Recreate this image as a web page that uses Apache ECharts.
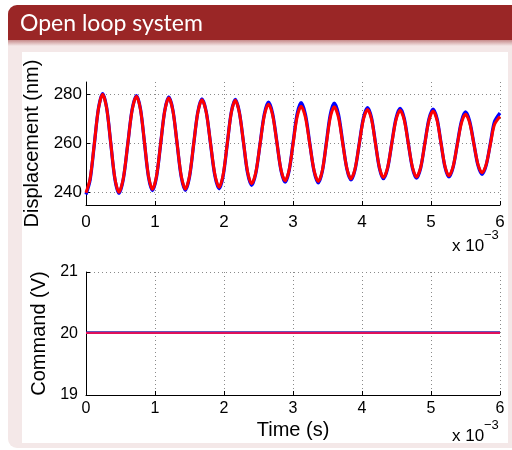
<!DOCTYPE html>
<html>
<head>
<meta charset="utf-8">
<script src="https://cdn.jsdelivr.net/npm/echarts@6/dist/echarts.min.js"></script>
<style>
html,body{margin:0;padding:0;background:#fff;}
#chart{width:512px;height:450px;}
</style>
</head>
<body>
<div id="chart"></div>
<script>
// Time axis values (x 10^-3 s)
var timeMs = [
  0,0.060,0.121,0.181, 0.241,0.300,0.359,0.418, 0.477,0.541,0.605,0.668,
  0.732,0.790,0.848,0.905, 0.963,1.022,1.082,1.141, 1.20,1.26,1.32,1.38,
  1.44,1.50,1.56,1.62, 1.68,1.743,1.805,1.868, 1.93,1.988,2.047,2.105,
  2.163,2.222,2.282,2.341, 2.40,2.461,2.523,2.584, 2.645,2.705,2.766,2.826,
  2.886,2.944,3.002,3.059, 3.117,3.18,3.242,3.305, 3.367,3.425,3.483,3.54,
  3.598,3.659,3.719,3.78, 3.84,3.90,3.96,4.02, 4.08,4.138,4.195,4.253,
  4.31,4.371,4.431,4.492, 4.552,4.612,4.671,4.731, 4.79,4.85,4.91,4.97,
  5.03,5.088,5.145,5.203, 5.26,5.32,5.38,5.44, 5.50,5.56,5.62,5.68,
  5.74,5.80,5.86,5.92, 6.0];
// Displacement (nm), measured (blue)
var dispBlue = [
  239.3,245.3,259.8,274.3, 280.3,274.4,260.1,245.7, 239.8,245.6,259.7,273.7,
  279.5,273.9,260.2,246.5, 240.9,246.4,259.9,273.3, 278.9,273.4,260.0,246.5,
  241.0,246.4,259.6,272.7, 278.1,272.8,259.9,246.9, 241.6,246.9,259.8,272.6,
  277.9,272.8,260.5,248.1, 243.0,247.9,259.9,271.9, 276.8,272.1,260.6,249.1,
  244.3,249.0,260.5,271.9, 276.6,271.8,260.3,248.8, 244.0,248.7,260.2,271.7,
  276.4,271.8,260.8,249.8, 245.2,249.5,259.9,270.3, 274.6,270.4,260.2,249.9,
  245.7,249.9,260.0,270.1, 274.3,270.2,260.1,250.0, 245.9,250.0,260.0,269.9,
  274.0,270.0,260.2,250.4, 246.4,250.3,259.6,268.9, 272.8,269.1,260.2,251.2,
  247.5,251.2,260.0,268.8, 272.4];
// Displacement (nm), model (red)
var dispRed = [
  240.0,245.8,260.0,274.2, 280.0,274.2,260.1,246.0, 240.2,245.9,259.7,273.5,
  279.2,273.7,260.3,246.9, 241.4,246.8,260.0,273.2, 278.6,273.2,260.1,246.9,
  241.5,246.8,259.7,272.5, 277.8,272.6,260.0,247.4, 242.2,247.4,259.9,272.4,
  277.6,272.6,260.6,248.6, 243.6,248.3,259.8,271.3, 276.0,271.5,260.5,249.4,
  244.9,249.3,260.0,270.7, 275.1,270.6,259.9,249.1, 244.6,249.0,259.8,270.5,
  274.9,270.6,260.3,250.0, 245.7,249.8,259.8,269.7, 273.8,269.8,260.0,250.2,
  246.2,250.2,259.9,269.5, 273.5,269.5,260.0,250.4, 246.4,250.3,259.8,269.3,
  273.2,269.4,260.1,250.7, 246.9,250.6,259.4,268.2, 271.9,268.4,260.0,251.6,
  248.1,251.5,259.6,267.7, 271.0];
// Command (V)
var cmdTime = [0,6];
var cmdBlue = [20.02,20.02];
var cmdRed = [20.01,20.01];
// Tick labels
var xTicks = [0,1,2,3,4,5,6];
var dispTicks = [240,260,280];
var cmdTicks = [19,20,21];

function pairs(xs, ys){ return xs.map(function(x,i){ return [x, ys[i]]; }); }

var FONT = '"Liberation Sans", Arial, Helvetica, sans-serif';
var gridLine = {show:true, lineStyle:{color:'#8a8a8a', type:[1,3], width:1}};

function xAxis(gridIndex, fs, margin, name){
  return {
    type:'value', gridIndex:gridIndex, min:xTicks[0], max:xTicks[xTicks.length-1], interval:1,
    name:name||'', nameLocation:'middle', nameGap:25,
    nameTextStyle:{fontFamily:FONT, fontSize:20, color:'#000'},
    axisLine:{show:true, onZero:false, lineStyle:{color:'#000', width:1}},
    axisTick:{show:true, inside:true, length:4, lineStyle:{color:'#000'}},
    axisLabel:{fontFamily:FONT, fontSize:fs, color:'#000', margin:margin},
    splitLine:gridLine
  };
}

var option = {
  animation:false,
  backgroundColor:'#ffffff',
  title:{
    text:'Open loop system', left:20, top:12, padding:0,
    textStyle:{color:'#ffffff', fontSize:23, fontWeight:'normal', fontFamily:'Lato, "Open Sans", sans-serif'}
  },
  graphic:{elements:[
    {type:'rect', z:-100, silent:true, shape:{x:8,y:5,width:520,height:443,r:[9,0,0,9]}, style:{fill:'#f4e8e8'}},
    {type:'rect', z:-99, silent:true, shape:{x:8,y:5,width:520,height:35,r:[9,0,0,0]}, style:{fill:'#9a2626'}},
    {type:'rect', z:-99, silent:true, shape:{x:8,y:40,width:520,height:6},
      style:{fill:{type:'linear',x:0,y:0,x2:0,y2:1,colorStops:[{offset:0,color:'#c68a8a'},{offset:1,color:'#f4e8e8'}]}}},
    {type:'rect', z:-98, silent:true, shape:{x:22,y:52,width:486,height:391}, style:{fill:'#ffffff'}},
    {type:'text', z:10, left:452, top:238, style:{text:'x 10', font:'17px '+FONT, fill:'#000'}},
    {type:'text', z:10, left:484, top:229, style:{text:'\u22123', font:'13px '+FONT, fill:'#000'}},
    {type:'text', z:10, left:452, top:428, style:{text:'x 10', font:'17px '+FONT, fill:'#000'}},
    {type:'text', z:10, left:484, top:419, style:{text:'\u22123', font:'13px '+FONT, fill:'#000'}}
  ]},
  grid:[
    {left:86, top:82, width:414, height:123, outerBoundsMode:'none'},
    {left:86, top:272, width:414, height:123, outerBoundsMode:'none'}
  ],
  xAxis:[
    xAxis(0, 17, 9),
    xAxis(1, 16, 6, 'Time (s)')
  ],
  yAxis:[
    {
      type:'value', gridIndex:0, min:235, max:285,
      name:'Displacement (nm)', nameLocation:'middle', nameGap:41,
      nameTextStyle:{fontFamily:FONT, fontSize:20, color:'#000'},
      axisLine:{show:true, onZero:false, lineStyle:{color:'#000', width:1}},
      axisTick:{show:true, inside:true, length:4, customValues:dispTicks, lineStyle:{color:'#000'}},
      axisLabel:{fontFamily:FONT, fontSize:17, color:'#000', margin:4, customValues:dispTicks},
      splitLine:gridLine
    },
    {
      type:'value', gridIndex:1, min:cmdTicks[0], max:cmdTicks[2], interval:1,
      name:'Command (V)', nameLocation:'middle', nameGap:31,
      nameTextStyle:{fontFamily:FONT, fontSize:20, color:'#000'},
      axisLine:{show:true, onZero:false, lineStyle:{color:'#000', width:1}},
      axisTick:{show:true, inside:true, length:4, lineStyle:{color:'#000'}},
      axisLabel:{fontFamily:FONT, fontSize:16, color:'#000', margin:8},
      splitLine:gridLine
    }
  ],
  series:[
    {type:'line', xAxisIndex:0, yAxisIndex:0, data:pairs(timeMs, dispBlue), smooth:0.3, showSymbol:false,
      lineStyle:{color:'#0000ff', width:3.3}, z:3},
    {type:'line', xAxisIndex:0, yAxisIndex:0, data:pairs(timeMs, dispRed), smooth:0.3, showSymbol:false,
      lineStyle:{color:'#ff0000', width:3}, z:4},
    {type:'line', xAxisIndex:1, yAxisIndex:1, data:pairs(cmdTime, cmdBlue), showSymbol:false,
      lineStyle:{color:'#3020a0', width:2}, z:3},
    {type:'line', xAxisIndex:1, yAxisIndex:1, data:pairs(cmdTime, cmdRed), showSymbol:false,
      lineStyle:{color:'#e0105a', width:2}, z:4}
  ]
};
var chart = echarts.init(document.getElementById('chart'), null, {renderer:'canvas'});
chart.setOption(option);
</script>
</body>
</html>
